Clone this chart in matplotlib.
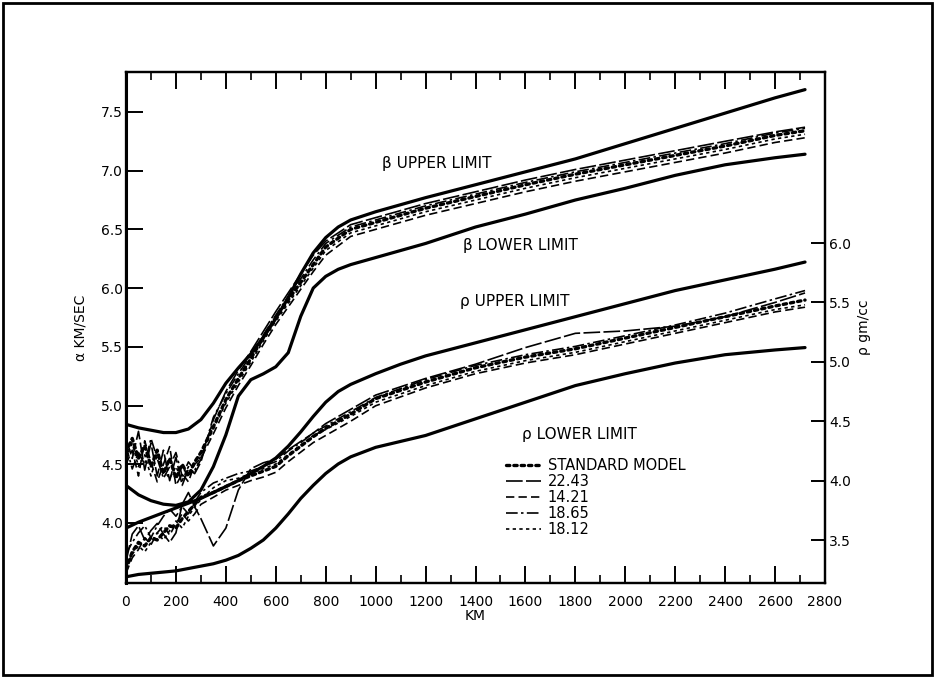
import matplotlib
matplotlib.use("Agg")
import matplotlib.pyplot as plt
from matplotlib.patches import Rectangle
import numpy as np

# ---------------- data ----------------
lim_depth = [0, 50, 100, 150, 200, 250, 300, 350, 400, 450, 500, 550, 600, 650, 700,
             750, 800, 850, 900, 1000, 1100, 1200, 1400, 1600, 1800, 2000, 2200, 2400, 2600, 2720]
alpha_upper = [4.84, 4.81, 4.79, 4.77, 4.77, 4.80, 4.88, 5.02, 5.19, 5.32, 5.44, 5.58, 5.74, 5.92, 6.12,
               6.30, 6.43, 6.52, 6.58, 6.65, 6.71, 6.77, 6.88, 6.99, 7.10, 7.23, 7.36, 7.49, 7.62, 7.69]
alpha_lower = [4.32, 4.24, 4.19, 4.16, 4.15, 4.18, 4.28, 4.48, 4.75, 5.08, 5.22, 5.27, 5.33, 5.45, 5.76,
               6.00, 6.10, 6.16, 6.20, 6.26, 6.32, 6.38, 6.52, 6.63, 6.75, 6.85, 6.96, 7.05, 7.11, 7.14]
rho_upper = [3.60, 3.65, 3.69, 3.73, 3.77, 3.81, 3.85, 3.90, 3.95, 4.00, 4.06, 4.12, 4.19, 4.29, 4.41,
             4.54, 4.66, 4.75, 4.81, 4.90, 4.98, 5.05, 5.16, 5.27, 5.38, 5.49, 5.60, 5.69, 5.78, 5.84]
rho_lower = [3.19, 3.21, 3.22, 3.23, 3.24, 3.26, 3.28, 3.30, 3.33, 3.37, 3.43, 3.50, 3.60, 3.72, 3.85,
             3.96, 4.06, 4.14, 4.20, 4.28, 4.33, 4.38, 4.52, 4.66, 4.80, 4.90, 4.99, 5.06, 5.10, 5.12]

model_depth = [0, 25, 50, 75, 100, 125, 150, 175, 200, 225, 250, 275, 300, 350, 400, 450, 500, 550,
               600, 650, 700, 750, 800, 900, 1000, 1200, 1400, 1600, 1800, 2000, 2200, 2400, 2600, 2720]
model_names = ["STANDARD MODEL", "22.43", "14.21", "18.65", "18.12"]

alpha_std = [4.60, 4.72, 4.55, 4.66, 4.48, 4.62, 4.42, 4.55, 4.38, 4.50, 4.40, 4.52, 4.60, 4.82, 5.05, 5.23, 5.40,
             5.58, 5.75, 5.90, 6.05, 6.20, 6.35, 6.50, 6.56, 6.68, 6.78, 6.88, 6.97, 7.05, 7.13, 7.21, 7.30, 7.34]
alpha_2243 = [4.72, 4.55, 4.78, 4.45, 4.68, 4.40, 4.62, 4.36, 4.56, 4.32, 4.46, 4.42, 4.52, 4.88, 5.12, 5.30, 5.46,
              5.63, 5.80, 5.96, 6.12, 6.28, 6.40, 6.54, 6.60, 6.72, 6.82, 6.92, 7.01, 7.09, 7.17, 7.25, 7.33, 7.37]
alpha_1421 = [4.50, 4.62, 4.40, 4.70, 4.52, 4.35, 4.50, 4.65, 4.32, 4.42, 4.35, 4.50, 4.55, 4.76, 4.98, 5.17, 5.34,
              5.52, 5.69, 5.84, 5.99, 6.14, 6.28, 6.44, 6.50, 6.62, 6.72, 6.82, 6.91, 6.99, 7.07, 7.15, 7.24, 7.28]
alpha_1865 = [4.66, 4.46, 4.60, 4.50, 4.72, 4.55, 4.38, 4.48, 4.60, 4.40, 4.52, 4.45, 4.54, 4.90, 5.10, 5.27, 5.43,
              5.60, 5.77, 5.93, 6.08, 6.24, 6.38, 6.52, 6.58, 6.70, 6.80, 6.90, 6.99, 7.07, 7.15, 7.23, 7.32, 7.36]
alpha_1812 = [4.55, 4.68, 4.48, 4.58, 4.40, 4.58, 4.45, 4.38, 4.48, 4.36, 4.48, 4.42, 4.58, 4.80, 5.02, 5.20, 5.37,
              5.55, 5.72, 5.87, 6.02, 6.17, 6.32, 6.47, 6.53, 6.65, 6.75, 6.85, 6.94, 7.02, 7.10, 7.18, 7.27, 7.31]

rho_std = [3.25, 3.40, 3.48, 3.45, 3.52, 3.50, 3.56, 3.62, 3.60, 3.68, 3.74, 3.80, 3.86, 3.90, 3.95, 4.00, 4.04,
           4.08, 4.12, 4.21, 4.29, 4.37, 4.44, 4.56, 4.69, 4.83, 4.95, 5.04, 5.11, 5.20, 5.29, 5.38, 5.47, 5.52]
rho_2243 = [3.32, 3.55, 3.62, 3.50, 3.58, 3.64, 3.55, 3.48, 3.56, 3.80, 3.90, 3.78, 3.68, 3.45, 3.60, 3.92, 4.10,
            4.15, 4.18, 4.26, 4.33, 4.40, 4.48, 4.60, 4.72, 4.86, 4.98, 5.12, 5.24, 5.26, 5.30, 5.38, 5.50, 5.58]
rho_1421 = [3.22, 3.35, 3.42, 3.52, 3.46, 3.56, 3.62, 3.54, 3.64, 3.72, 3.66, 3.72, 3.80, 3.86, 3.92, 3.96, 4.00,
            4.03, 4.07, 4.16, 4.24, 4.32, 4.38, 4.50, 4.63, 4.78, 4.90, 4.99, 5.06, 5.15, 5.24, 5.33, 5.42, 5.46]
rho_1865 = [3.38, 3.48, 3.56, 3.62, 3.52, 3.62, 3.70, 3.76, 3.70, 3.78, 3.72, 3.82, 3.90, 3.98, 4.02, 4.06, 4.08,
            4.12, 4.16, 4.25, 4.32, 4.40, 4.46, 4.58, 4.70, 4.85, 4.97, 5.06, 5.13, 5.22, 5.31, 5.41, 5.53, 5.60]
rho_1812 = [3.28, 3.38, 3.45, 3.40, 3.48, 3.56, 3.50, 3.58, 3.66, 3.60, 3.70, 3.78, 3.84, 3.94, 4.00, 4.02, 4.06,
            4.10, 4.14, 4.22, 4.30, 4.38, 4.43, 4.54, 4.66, 4.80, 4.92, 5.01, 5.08, 5.17, 5.26, 5.35, 5.44, 5.48]

x_ticks = list(range(0, 2801, 200))
left_ticks = [4.0, 4.5, 5.0, 5.5, 6.0, 6.5, 7.0, 7.5]
right_ticks = [3.5, 4.0, 4.5, 5.0, 5.5, 6.0]

# ---------------- styles ----------------
model_styles = [
    dict(ls=(0, (1, 1.2)), lw=2.4, dash_capstyle="round"),
    dict(ls=(0, (10, 2)), lw=1.2),
    dict(ls=(0, (5, 2.5)), lw=1.2),
    dict(ls=(0, (7, 2, 1.5, 2)), lw=1.2),
    dict(ls=(0, (2, 2)), lw=1.2),
]

plt.rcParams["font.family"] = ["DejaVu Sans"]
fig = plt.figure(figsize=(9.36, 6.78), dpi=100)
fig.patch.set_facecolor("white")
ax = fig.add_axes([126 / 936, 1 - 583 / 678, 699 / 936, 511 / 678])
ax2 = ax.twinx()

ax.set_xlim(0, 2800)
ax.set_ylim(3.489, 7.84)
ax2.set_ylim(3.138, 7.44)

lim_kw = dict(color="black", lw=2.3, solid_capstyle="round")
ax.plot(lim_depth, alpha_upper, **lim_kw)
ax.plot(lim_depth, alpha_lower, **lim_kw)
ax2.plot(lim_depth, rho_upper, **lim_kw)
ax2.plot(lim_depth, rho_lower, **lim_kw)

alpha_models = [alpha_std, alpha_2243, alpha_1421, alpha_1865, alpha_1812]
rho_models = [rho_std, rho_2243, rho_1421, rho_1865, rho_1812]
handles = []
for name, a, r, st in zip(model_names, alpha_models, rho_models, model_styles):
    h, = ax.plot(model_depth, a, color="black", label=name, **st)
    ax2.plot(model_depth, r, color="black", **st)
    handles.append(h)

# text labels
tkw = dict(fontsize=11, color="black", va="center", ha="left")
ax.text(1026, 7.06, "β UPPER LIMIT", **tkw)
ax.text(1348, 6.36, "β LOWER LIMIT", **tkw)
ax.text(1336, 5.89, "ρ UPPER LIMIT", **tkw)
ax.text(1587, 4.75, "ρ LOWER LIMIT", **tkw)

leg = ax.legend(handles=handles, loc="upper left", bbox_to_anchor=(0.543, 0.245),
                frameon=False, fontsize=10.5, handlelength=2.4, handletextpad=0.5,
                labelspacing=0.08, borderpad=0.0, borderaxespad=0.0)

# ticks
ax.set_xticks(x_ticks)
ax.set_xticks(list(range(100, 2800, 200)), minor=True)
ax.set_yticks(left_ticks)
ax.set_yticklabels([f"{v:.1f}" for v in left_ticks])
ax2.set_yticks(right_ticks)
ax2.set_yticklabels([f"{v:.1f}" for v in right_ticks])
ax.set_xticklabels([str(v) for v in x_ticks])
ax.tick_params(axis="x", which="major", direction="in", length=12, width=1.4,
               top=True, bottom=True, labelsize=10, pad=9)
ax.tick_params(axis="x", which="minor", direction="in", length=6, width=1.2,
               top=True, bottom=True)
ax.tick_params(axis="y", which="major", direction="in", length=12, width=1.4,
               left=True, right=False, labelsize=10, pad=2)
ax2.tick_params(axis="y", which="major", direction="in", length=10, width=1.4,
                right=True, labelsize=10, pad=3)

for s in ["left", "right", "top", "bottom"]:
    ax.spines[s].set_linewidth(1.6)
    ax2.spines[s].set_linewidth(1.6)
ax.spines["left"].set_linewidth(2.2)

ax.set_xlabel("KM", fontsize=10, labelpad=0)
ax.set_ylabel("α KM/SEC", fontsize=10, labelpad=10)
ax2.set_ylabel("ρ gm/cc", fontsize=10, labelpad=4)

# outer frame
fig.patches.append(Rectangle((3 / 936, 3 / 678), 929 / 936, 672 / 678, transform=fig.transFigure,
                             fill=False, edgecolor="black", lw=2.0))

fig.savefig("out.png", dpi=100, facecolor="white")
